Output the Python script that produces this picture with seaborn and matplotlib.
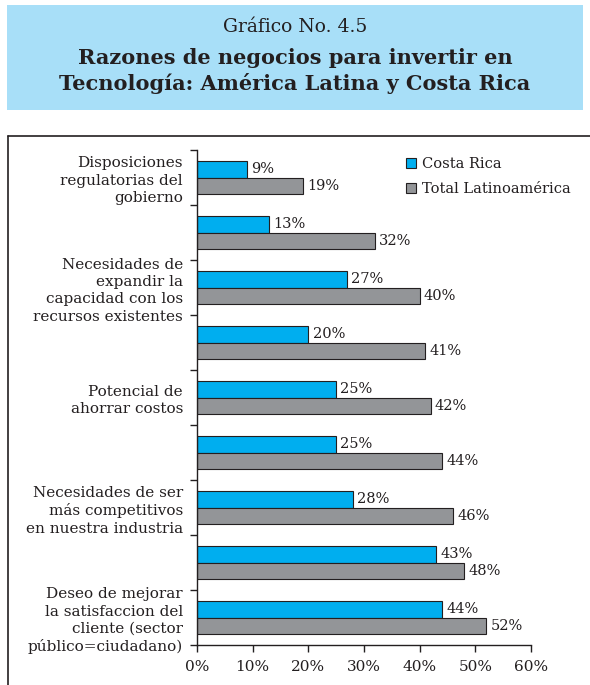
import matplotlib
matplotlib.use("Agg")
import matplotlib.pyplot as plt
from matplotlib.patches import Rectangle, Patch
from matplotlib.lines import Line2D
from matplotlib.ticker import FixedLocator, FuncFormatter
import seaborn as sns
import pandas as pd

# Data: share of firms citing each business reason for investing in technology
razones = ["R1", "R2", "R3", "R4", "R5", "R6", "R7", "R8", "R9"]
etiquetas = {
    0: "Disposiciones\nregulatorias del\ngobierno",
    2: "Necesidades de\nexpandir la\ncapacidad con los\nrecursos existentes",
    4: "Potencial de\nahorrar costos",
    6: "Necesidades de ser\nmás competitivos\nen nuestra industria",
    8: "Deseo de mejorar\nla satisfaccion del\ncliente (sector\npúblico=ciudadano)",
}
costa_rica = [9, 13, 27, 20, 25, 25, 28, 43, 44]
total_latam = [19, 32, 40, 41, 42, 44, 46, 48, 52]
series = ["Costa Rica", "Total Latinoamérica"]
colores = ["#00aeef", "#939598"]
x_ticks = [0, 10, 20, 30, 40, 50, 60]

df = pd.DataFrame({
    "razon": razones * 2,
    "valor": costa_rica + total_latam,
    "serie": [series[0]] * len(razones) + [series[1]] * len(razones),
})

sns.set_theme(style="white")
plt.rcParams["font.family"] = ["DejaVu Serif"]
texto = "#231f20"

fig = plt.figure(figsize=(5.90, 6.85), dpi=100)

# Title banner
fig.patches.append(Rectangle((7 / 590, 1 - 110 / 685), 576 / 590, 105 / 685,
                             transform=fig.transFigure, facecolor="#a8dff8",
                             edgecolor="none", zorder=0))
fig.text(0.5, 1 - 27 / 685, "Gráfico No. 4.5", ha="center", va="center",
         fontsize=13.5, color=texto)
fig.text(0.5, 1 - 71 / 685,
         "Razones de negocios para invertir en\nTecnología: América Latina y Costa Rica",
         ha="center", va="center", fontsize=15, fontweight="bold",
         color=texto, linespacing=1.35)

# Frame lines around the chart area
fig.add_artist(Line2D([8 / 590, 1.0], [1 - 136 / 685] * 2, transform=fig.transFigure,
                      color=texto, lw=1.2))
fig.add_artist(Line2D([8 / 590] * 2, [0.0, 1 - 136 / 685], transform=fig.transFigure,
                      color=texto, lw=1.2))

ax = fig.add_axes([197 / 590, 1 - 645 / 685, 334 / 590, 495 / 685])
sns.barplot(data=df, x="valor", y="razon", hue="serie", orient="h",
            palette=colores, hue_order=series, order=razones, width=0.6,
            edgecolor=texto, linewidth=0.8, saturation=1, legend=False, ax=ax)

ax.set_xlim(0, 60)
ax.set_ylim(len(razones) - 0.5, -0.5)
ax.set_xlabel("")
ax.set_ylabel("")

# Value labels at bar ends
for cont in ax.containers:
    ax.bar_label(cont, labels=[f"{v:.0f}%" for v in cont.datavalues],
                 padding=3, fontsize=10.5, color=texto)

# Axes styling
for s in ["top", "right"]:
    ax.spines[s].set_visible(False)
for s in ["left", "bottom"]:
    ax.spines[s].set_color(texto)
    ax.spines[s].set_linewidth(1.0)

ax.xaxis.set_major_locator(FixedLocator(x_ticks))
ax.xaxis.set_major_formatter(FuncFormatter(lambda v, p: f"{v:.0f}%"))
ax.tick_params(axis="x", bottom=True, direction="out", length=5, width=1,
               color=texto, labelsize=11, labelcolor=texto, pad=6)

pos = sorted(etiquetas)
ax.yaxis.set_major_locator(FixedLocator(pos))
ax.set_yticklabels([etiquetas[p] for p in pos], fontsize=11, color=texto,
                   linespacing=1.3)
ax.yaxis.set_minor_locator(FixedLocator([i - 0.5 for i in range(len(razones) + 1)]))
ax.tick_params(axis="y", which="major", left=False, length=0, pad=10)
ax.tick_params(axis="y", which="minor", left=True, direction="out", length=5,
               width=1, color=texto)

# Legend
handles = [Patch(facecolor=c, edgecolor=texto, linewidth=0.8) for c in colores]
ax.legend(handles, series, loc="upper left", bbox_to_anchor=(0.585, 1.012),
          frameon=False, fontsize=10.5, handlelength=0.7, handleheight=0.7,
          handletextpad=0.45, labelspacing=0.75, labelcolor=texto)

fig.savefig("out.png", dpi=100)
